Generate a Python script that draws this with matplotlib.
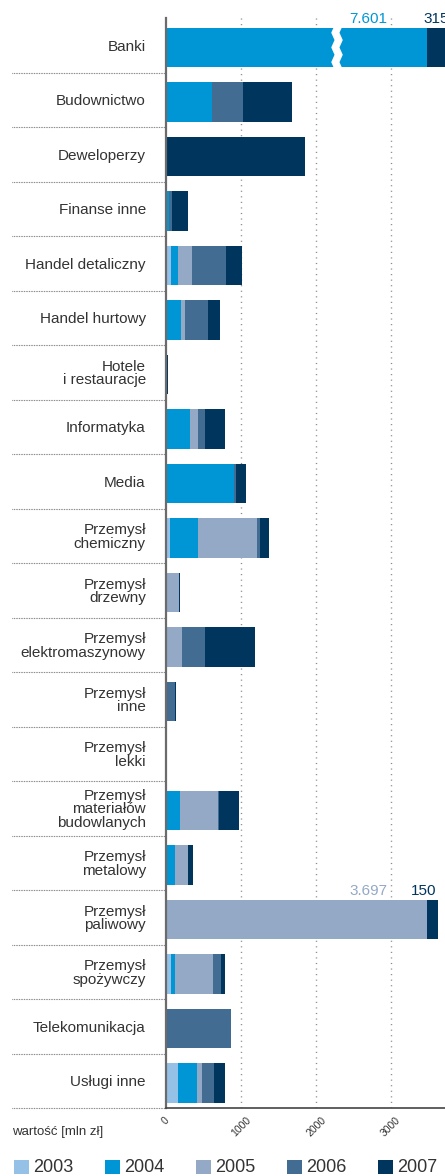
# -*- coding: utf-8 -*-
# Wartosc transakcji w podziale na branze, 2003-2007 (mln zl)
import numpy as np
import matplotlib.pyplot as plt
from matplotlib.patches import Rectangle, Polygon
from matplotlib.transforms import blended_transform_factory

plt.rcParams['font.family'] = ['Liberation Sans', 'DejaVu Sans']
plt.rcParams['text.color'] = '#333333'
plt.rcParams['xtick.color'] = '#333333'
plt.rcParams['ytick.color'] = '#333333'

# branze (od gory)
categories = ['Banki', 'Budownictwo', 'Deweloperzy', 'Finanse inne',
              'Handel detaliczny', 'Handel hurtowy', 'Hotele\ni restauracje',
              'Informatyka', 'Media', 'Przemysł\nchemiczny', 'Przemysł\ndrzewny',
              'Przemysł\nelektromaszynowy', 'Przemysł\ninne', 'Przemysł\nlekki',
              'Przemysł\nmateriałów\nbudowlanych', 'Przemysł\nmetalowy',
              'Przemysł\npaliwowy', 'Przemysł\nspożywczy', 'Telekomunikacja',
              'Usługi inne']

years = ['2003', '2004', '2005', '2006', '2007']

# wartosci w mln zl
v2003 = [0, 0, 0, 0, 65, 0, 0, 0, 0, 55, 0, 0, 0, 0, 0, 0, 0, 65, 0, 160]
v2004 = [7601, 610, 0, 35, 95, 200, 0, 320, 900, 370, 0, 0, 15, 0, 185, 120, 0, 55, 0, 255]
v2005 = [0, 0, 0, 0, 185, 55, 0, 105, 0, 790, 175, 215, 0, 0, 505, 175, 3697, 505, 0, 65]
v2006 = [0, 410, 0, 50, 455, 305, 0, 95, 30, 40, 0, 305, 105, 0, 15, 0, 0, 105, 865, 160]
v2007 = [315, 655, 1850, 205, 215, 160, 25, 265, 135, 120, 12, 665, 13, 6, 265, 65, 150, 55, 0, 145]

colors = ['#95c1e6', '#0096d5', '#94a9c5', '#426c92', '#00355e']

xticks = [0, 1000, 2000, 3000]
XMAX = 3720   # prawa krawedz osi
CAP = 3480    # dluzsze segmenty sa skracane na wykresie

values = np.array([v2003, v2004, v2005, v2006, v2007])
n = len(categories)
y = np.arange(n)
bar_y = y + 0.04
bar_h = 0.73

fig = plt.figure(figsize=(4.45, 11.76), dpi=100)
ax = fig.add_axes([166 / 445, 1 - 1108 / 1176, 1 - 166 / 445, 1090 / 1176])

# siatka pionowa (kropkowana)
for xt in xticks[1:]:
    ax.axvline(xt, color='#8a8a8a', lw=1, dashes=(0.8, 3.2), zorder=0)

# slupki skumulowane, segmenty ponad CAP skrocone
left = np.zeros(n)
for i, yr in enumerate(years):
    shown = np.minimum(values[i], CAP)
    ax.barh(bar_y, shown, left=left, height=bar_h, color=colors[i], lw=0, zorder=2)
    left = left + shown

def fmt(v):
    return '{:,}'.format(int(v)).replace(',', '.')

# opisy wartosci dla skroconych slupkow
for r in range(n):
    capped = np.where(values[:, r] > CAP)[0]
    if len(capped) == 0:
        continue
    k = capped[0]
    top = bar_y[r] - bar_h / 2
    base = top - 0.08
    ax.text(2950, base, fmt(values[k, r]), color=colors[k], fontsize=11,
            ha='right', va='baseline', zorder=3)
    for j in range(k + 1, len(years)):
        if values[j, r] > 0:
            ax.text(left[r] - 25, base, fmt(values[j, r]), color=colors[j],
                    fontsize=11, ha='right', va='baseline', zorder=3)
    # przerwa w slupku, gdy wartosc wychodzi poza os
    if values[k, r] > XMAX:
        bx = 2280
        ys = np.linspace(top - 0.04, top + bar_h + 0.04, 7)
        amp = np.array([1, -1, 1, -1, 1, -1, 1]) * 22
        left_edge = np.column_stack([bx - 55 + amp, ys])
        right_edge = np.column_stack([bx + 55 + amp, ys])[::-1]
        ax.add_patch(Polygon(np.vstack([left_edge, right_edge]), closed=True,
                             facecolor='white', edgecolor='none', zorder=4))

ax.set_xlim(0, XMAX)
ax.set_ylim(n - 0.5, -0.5)

ax.set_yticks(y)
ax.set_yticklabels(categories, fontsize=11, linespacing=0.95)
ax.tick_params(axis='y', length=0, pad=14.5)
ax.set_xticks(xticks)
ax.set_xticklabels([str(t) for t in xticks], fontsize=7.5, rotation=45)
ax.tick_params(axis='x', length=0, pad=5)

for s in ['top', 'right']:
    ax.spines[s].set_visible(False)
ax.spines['left'].set_color('#6b6b6b')
ax.spines['left'].set_linewidth(1.6)
ax.spines['bottom'].set_color('#444444')
ax.spines['bottom'].set_linewidth(1.2)

# kropkowane separatory miedzy branzami
trans = blended_transform_factory(fig.transFigure, ax.transData)
for k in range(n):
    ax.plot([12 / 445, 166 / 445], [k + 0.5, k + 0.5], transform=trans,
            color='#555555', lw=0.8, dashes=(0.6, 0.9), clip_on=False)

fig.text(12 / 445, 1 - 1132 / 1176, 'wartość [mln zł]', fontsize=9.5, va='center')

# legenda
for i, yr in enumerate(years):
    fig.patches.append(Rectangle(((14 + i * 91) / 445, 1 - 1174 / 1176), 15 / 445, 14 / 1176,
                                 transform=fig.transFigure, facecolor=colors[i],
                                 edgecolor='none', figure=fig))
    fig.text((33 + i * 91) / 445, 1 - 1167 / 1176, yr, fontsize=13, va='center')

plt.savefig('out.png', dpi=100, facecolor='white')
plt.close()
